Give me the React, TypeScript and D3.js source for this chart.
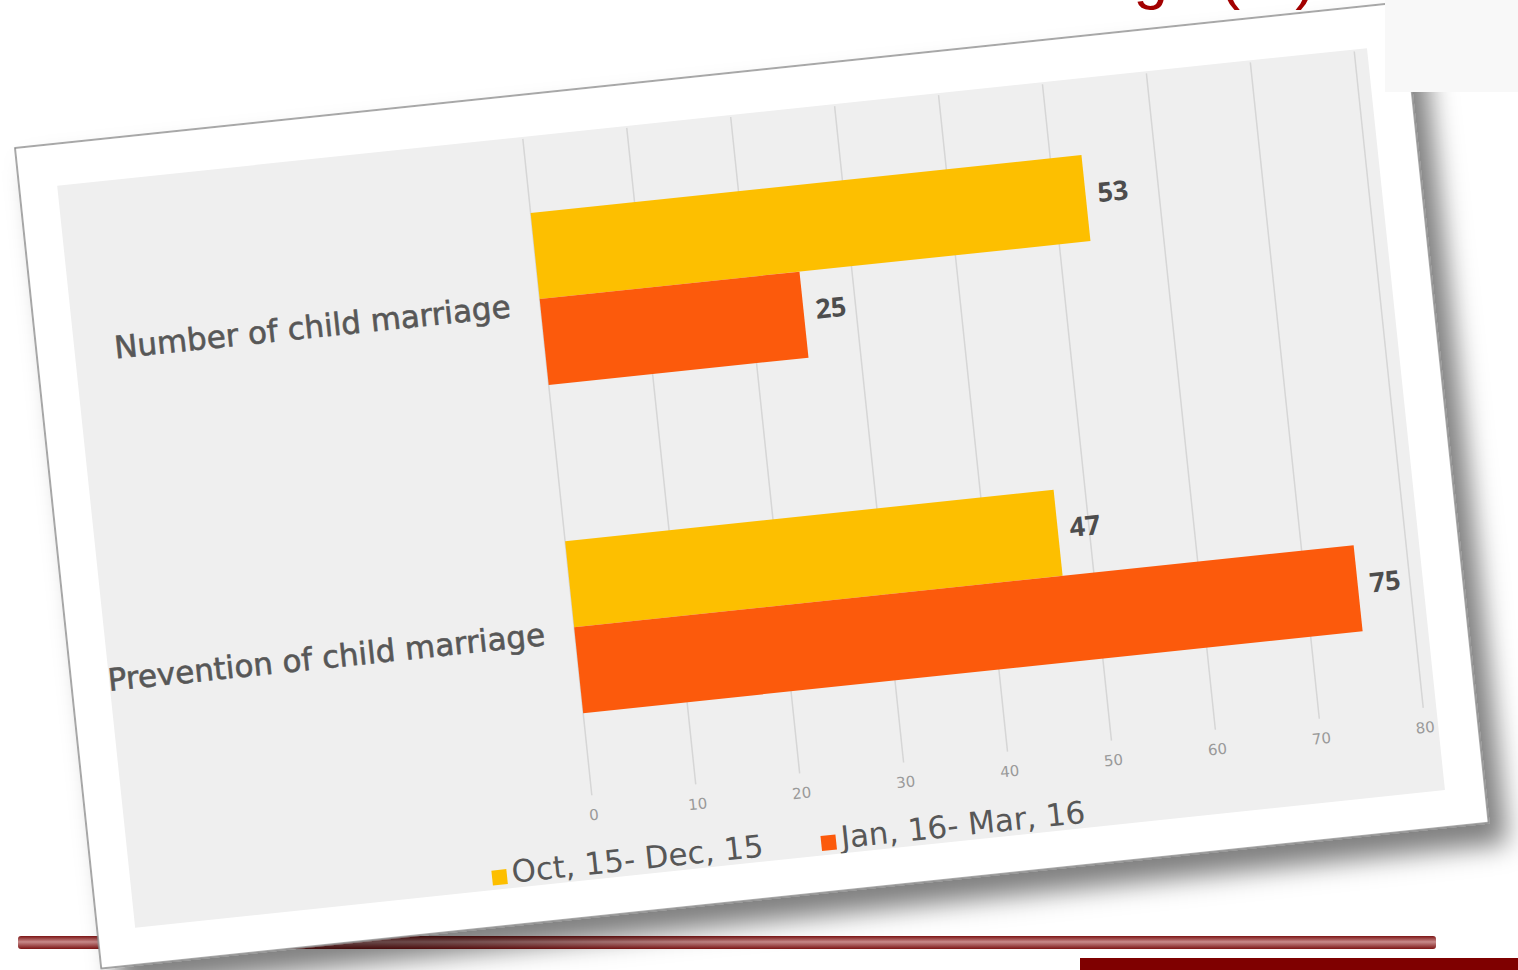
import React, { useEffect, useRef } from 'react';
import * as d3 from 'd3';

// chart values
const categories = ['Number of child marriage', 'Prevention of child marriage'];
const seriesNames = ['Oct, 15- Dec, 15', 'Jan, 16- Mar, 16'];
const oct15Dec15 = [53, 47];
const jan16Mar16 = [25, 75];
const xTicks = [0, 10, 20, 30, 40, 50, 60, 70, 80];
const seriesColors = ['#FDBF00', '#FC5A0C'];

const W = 1518;
const H = 970;

const App: React.FC = () => {
  const svgRef = useRef<SVGSVGElement>(null);

  useEffect(() => {
    if (!svgRef.current) return;
    const svg = d3.select(svgRef.current);
    svg.selectAll('*').remove();

    const defs = svg.append('defs');

    const shadow = defs.append('filter')
      .attr('id', 'card-shadow')
      .attr('x', '-5%').attr('y', '-5%')
      .attr('width', '115%').attr('height', '120%');
    shadow.append('feDropShadow')
      .attr('dx', 16).attr('dy', 22)
      .attr('stdDeviation', 13)
      .attr('flood-color', '#000')
      .attr('flood-opacity', 0.5);

    const barGrad = defs.append('linearGradient')
      .attr('id', 'bar-grad')
      .attr('x1', 0).attr('y1', 0).attr('x2', 0).attr('y2', 1);
    barGrad.append('stop').attr('offset', '0%').attr('stop-color', '#7c1414');
    barGrad.append('stop').attr('offset', '45%').attr('stop-color', '#c88a8a');
    barGrad.append('stop').attr('offset', '100%').attr('stop-color', '#7c1414');

    // slide pieces behind the picture
    svg.append('rect').attr('width', W).attr('height', H).attr('fill', '#fff');

    // slide title, mostly above the top edge of the photo
    svg.append('text')
      .attr('x', 1316).attr('y', -3)
      .attr('text-anchor', 'end')
      .style('font-family', 'Liberation Sans, Arial, sans-serif')
      .style('font-size', '62px')
      .attr('fill', '#a30000')
      .text('Child Marriage  (%)');

    svg.append('rect')
      .attr('x', 18).attr('y', 936)
      .attr('width', 1418).attr('height', 13)
      .attr('rx', 3)
      .attr('fill', 'url(#bar-grad)');

    svg.append('rect')
      .attr('x', 1080).attr('y', 958)
      .attr('width', W - 1080).attr('height', H - 958)
      .attr('fill', '#7f0000');

    // the rotated chart picture
    const cardW = 1395;
    const cardH = 825;
    const card = svg.append('g')
      .attr('transform', 'translate(15,148) rotate(-6)');

    card.append('rect')
      .attr('width', cardW).attr('height', cardH)
      .attr('fill', '#fff')
      .attr('stroke', '#8a8a8a')
      .attr('stroke-width', 1.5)
      .attr('filter', 'url(#card-shadow)');

    const area = { x: 38, y: 42, w: 1317, h: 746 };

    defs.append('clipPath').attr('id', 'area-clip')
      .append('rect')
      .attr('x', area.x).attr('y', area.y)
      .attr('width', area.w).attr('height', area.h);

    card.append('rect')
      .attr('x', area.x).attr('y', area.y)
      .attr('width', area.w).attr('height', area.h)
      .attr('fill', '#efefef');

    const g = card.append('g').attr('clip-path', 'url(#area-clip)');

    const xScale = d3.scaleLinear().domain([0, 80]).range([506, 1342]);
    const yScale = d3.scaleBand<string>()
      .domain(categories)
      .range([40, 700])
      .paddingInner(0.476)
      .paddingOuter(0.238);
    const subScale = d3.scaleBand<string>()
      .domain(seriesNames)
      .range([0, yScale.bandwidth()]);

    // gridlines
    g.selectAll('.grid')
      .data(xTicks)
      .enter()
      .append('line')
      .attr('x1', d => xScale(d)).attr('x2', d => xScale(d))
      .attr('y1', area.y + 2).attr('y2', 704)
      .attr('stroke', '#d6d6d6')
      .attr('stroke-width', 1.5);

    // tick labels
    g.selectAll('.tick-label')
      .data(xTicks)
      .enter()
      .append('text')
      .attr('x', d => xScale(d))
      .attr('y', 729)
      .attr('text-anchor', 'middle')
      .style('font-family', 'DejaVu Sans, sans-serif')
      .style('font-size', '15px')
      .attr('fill', '#9a9a9a')
      .text(d => d);

    const seriesData = [oct15Dec15, jan16Mar16];
    const rows = categories.flatMap((c, ci) =>
      seriesNames.map((s, si) => ({ cat: c, series: s, si, value: seriesData[si][ci] })));

    // bars
    g.selectAll('.bar')
      .data(rows)
      .enter()
      .append('rect')
      .attr('x', xScale(0))
      .attr('y', d => (yScale(d.cat) || 0) + (subScale(d.series) || 0))
      .attr('width', d => xScale(d.value) - xScale(0))
      .attr('height', subScale.bandwidth())
      .attr('fill', d => seriesColors[d.si]);

    // value labels
    g.selectAll('.value')
      .data(rows)
      .enter()
      .append('text')
      .attr('x', d => xScale(d.value) + 12)
      .attr('y', d => (yScale(d.cat) || 0) + (subScale(d.series) || 0) + subScale.bandwidth() / 2 - 4)
      .attr('dy', '0.35em')
      .style('font-family', 'Open Sans, sans-serif')
      .style('font-weight', 'bold')
      .style('font-size', '27px')
      .attr('fill', '#4d4d4d')
      .text(d => d.value);

    // category labels (the long one runs past the plot edge and is clipped)
    g.selectAll('.cat')
      .data(categories)
      .enter()
      .append('text')
      .attr('x', 476)
      .attr('y', d => (yScale(d) || 0) + yScale.bandwidth() / 2 + 4)
      .attr('dy', '0.35em')
      .attr('text-anchor', 'end')
      .style('font-family', 'DejaVu Sans, sans-serif')
      .style('font-size', '31px')
      .attr('fill', '#575757')
      .attr('stroke', '#575757')
      .attr('stroke-width', 0.6)
      .text(d => d);

    // legend, centred under the whole chart area
    const legend = g.append('g');
    const legendY = 772;
    const sq = 15;
    const items = legend.selectAll('.item')
      .data(seriesNames)
      .enter()
      .append('g');
    items.append('rect')
      .attr('width', sq).attr('height', sq)
      .attr('y', legendY - sq / 2 + 4)
      .attr('fill', (d, i) => seriesColors[i]);
    const labels = items.append('text')
      .attr('x', sq + 5)
      .attr('y', legendY)
      .attr('dy', '0.35em')
      .style('font-family', 'DejaVu Sans, sans-serif')
      .style('font-size', '31px')
      .attr('fill', '#575757')
      .text(d => d);

    const widths = labels.nodes().map(n => sq + 5 + (n as SVGTextElement).getComputedTextLength());
    const gap = 58;
    const total = d3.sum(widths) + gap * (widths.length - 1);
    let cursor = area.x + area.w / 2 - total / 2;
    items.each(function (d, i) {
      d3.select(this).attr('transform', `translate(${cursor},0)`);
      cursor += widths[i] + gap;
    });

    // light box in the top right corner of the slide
    svg.append('rect')
      .attr('x', 1385).attr('y', 0)
      .attr('width', W - 1385).attr('height', 92)
      .attr('fill', '#f8f8f8');
  }, []);

  return (
    <svg
      ref={svgRef}
      width={W}
      height={H}
      style={{ position: 'absolute', left: 0, top: 0, display: 'block' }}
    />
  );
};

export default App;
